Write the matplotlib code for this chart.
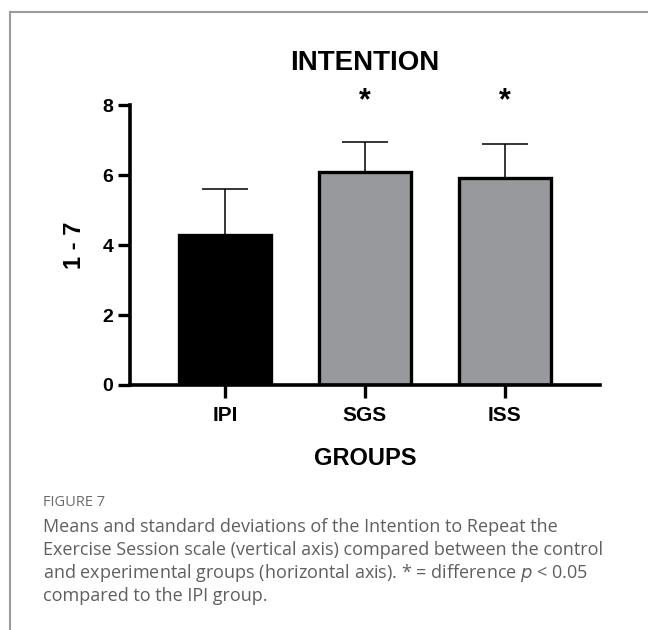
import numpy as np
import matplotlib
matplotlib.use('Agg')
import matplotlib.pyplot as plt
from matplotlib.lines import Line2D

# Data
groups = ['IPI', 'SGS', 'ISS']
means = [4.29, 6.09, 5.93]
sds = [1.31, 0.86, 0.96]
significant = [False, True, True]
bar_colors = ['#000000', '#97999c', '#97999c']

plt.rcParams['font.family'] = ['Liberation Sans', 'DejaVu Sans']

fig = plt.figure(figsize=(6.48, 6.30), dpi=100)
ax = fig.add_axes([0.2006, 0.389, 0.7254, 0.444])

x = np.arange(len(groups))
# upper error bars only, behind the bars
ax.errorbar(x, means, yerr=[np.zeros(len(sds)), sds], fmt='none', ecolor='black',
            elinewidth=1.1, capsize=16.5, capthick=1.1, zorder=1)
ax.bar(x, means, width=0.66, color=bar_colors, edgecolor='black', linewidth=2.4, zorder=2)

for xi, sig in zip(x, significant):
    if sig:
        ax.text(xi, 7.68, '*', ha='center', va='bottom', fontsize=22, fontweight='bold',
                clip_on=False)

ax.set_xlim(-0.68, 2.68)
ax.set_ylim(0, 8)
ax.set_yticks([0, 2, 4, 6, 8])
ax.set_xticks(x)
ax.set_xticklabels(groups)
ax.tick_params(axis='both', width=2.4, length=9, labelsize=14)
for lab in ax.get_xticklabels() + ax.get_yticklabels():
    lab.set_fontweight('bold')
ax.tick_params(axis='x', labelsize=15, pad=6)
ax.tick_params(axis='y', pad=3)

ax.spines['top'].set_visible(False)
ax.spines['right'].set_visible(False)
ax.spines['left'].set_linewidth(2.6)
ax.spines['bottom'].set_linewidth(2.6)

ax.set_title('INTENTION', fontsize=20, fontweight='bold', pad=25)
ax.set_xlabel('GROUPS', fontsize=17, fontweight='bold', labelpad=16)
ax.set_ylabel('1 - 7', fontsize=17, fontweight='bold', labelpad=12)

# page frame (left and top rule)
fig.add_artist(Line2D([10/648, 10/648], [0, 1 - 12/630], transform=fig.transFigure,
                      color='#9a9a9a', linewidth=1.5))
fig.add_artist(Line2D([10/648, 1], [1 - 12/630, 1 - 12/630], transform=fig.transFigure,
                      color='#9a9a9a', linewidth=1.5))

# caption
cap_font = ['Open Sans', 'DejaVu Sans']
fig.text(43/648, 1 - 503/630, 'FIGURE 7', fontsize=10.5, color='#6a6a6a',
         family=cap_font, va='center')
caption = ['Means and standard deviations of the Intention to Repeat the',
           'Exercise Session scale (vertical axis) compared between the control',
           'and experimental groups (horizontal axis). * = difference $p$ < 0.05',
           'compared to the IPI group.']
for i, line in enumerate(caption):
    fig.text(43/648, 1 - (527 + 23 * i)/630, line, fontsize=13, color='#5f5f5f',
             family=cap_font, va='center')

fig.savefig('out.png', dpi=100)
